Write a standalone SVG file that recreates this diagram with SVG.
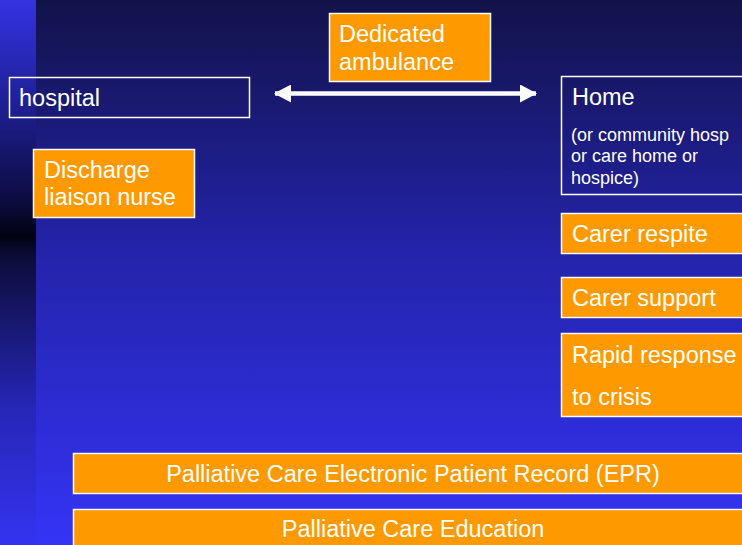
<svg xmlns="http://www.w3.org/2000/svg" width="742" height="545" viewBox="0 0 742 545">
  <defs>
    <linearGradient id="bgMain" x1="0" y1="0" x2="0" y2="1">
      <stop offset="0" stop-color="#12124a"/>
      <stop offset="0.45" stop-color="#2323a8"/>
      <stop offset="1" stop-color="#3434f6"/>
    </linearGradient>
    <linearGradient id="bgLeft" x1="0" y1="0" x2="0" y2="1">
      <stop offset="0" stop-color="#3333e2"/>
      <stop offset="0.18" stop-color="#20209a"/>
      <stop offset="0.36" stop-color="#0d0d45"/>
      <stop offset="0.435" stop-color="#020212"/>
      <stop offset="0.47" stop-color="#0c0c38"/>
      <stop offset="0.75" stop-color="#2626b8"/>
      <stop offset="1" stop-color="#3434f0"/>
    </linearGradient>
    <marker id="ah" viewBox="0 0 17 18" refX="16" refY="9" markerWidth="17" markerHeight="18" markerUnits="userSpaceOnUse" orient="auto-start-reverse">
      <path d="M0,0 L17,9 L0,18 Z" fill="#ffffff"/>
    </marker>
  </defs>
  <style>
    .orange { fill: #ff9900; stroke: #ffffff; stroke-width: 1.5; }
    .outline { fill: none; stroke: #ffffff; stroke-width: 1.5; }
    .t { font-family: "Liberation Sans", Arial, sans-serif; font-size: 23.5px; fill: #ffffff; }
    .s { font-family: "Liberation Sans", Arial, sans-serif; font-size: 18px; fill: #ffffff; }
  </style>

  <rect x="0" y="0" width="742" height="545" fill="url(#bgMain)"/>
  <rect x="0" y="0" width="36" height="545" fill="url(#bgLeft)"/>

  <g id="hospital">
    <rect class="outline" x="9.5" y="77.5" width="240" height="40"/>
    <text class="t" x="19" y="106">hospital</text>
  </g>

  <g id="discharge">
    <rect class="orange" x="33.5" y="149.5" width="161" height="68"/>
    <text class="t" x="44" y="178">Discharge</text>
    <text class="t" x="44" y="205">liaison nurse</text>
  </g>

  <g id="ambulance">
    <rect class="orange" x="329.5" y="13.5" width="161" height="68"/>
    <text class="t" x="339" y="42">Dedicated</text>
    <text class="t" x="339" y="70">ambulance</text>
  </g>

  <g id="home">
    <rect class="outline" x="561.5" y="76.5" width="200" height="118"/>
    <text class="t" x="572" y="105">Home</text>
    <text class="s" x="571" y="141">(or community hosp</text>
    <text class="s" x="571" y="162">or care home or</text>
    <text class="s" x="571" y="184">hospice)</text>
  </g>

  <g id="carer-respite">
    <rect class="orange" x="561.5" y="213.5" width="200" height="40"/>
    <text class="t" x="572" y="242">Carer respite</text>
  </g>

  <g id="carer-support">
    <rect class="orange" x="561.5" y="277.5" width="200" height="40"/>
    <text class="t" x="572" y="306">Carer support</text>
  </g>

  <g id="rapid-response">
    <rect class="orange" x="561.5" y="333.5" width="200" height="83"/>
    <text class="t" x="572" y="363">Rapid response</text>
    <text class="t" x="572" y="405">to crisis</text>
  </g>

  <g id="epr">
    <rect class="orange" x="73.5" y="453.5" width="680" height="40"/>
    <text class="t" x="413" y="482" text-anchor="middle">Palliative Care Electronic Patient Record (EPR)</text>
  </g>

  <g id="education">
    <rect class="orange" x="73.5" y="509.5" width="680" height="50"/>
    <text class="t" x="413" y="537" text-anchor="middle">Palliative Care Education</text>
  </g>

  <g id="connectors">
    <line x1="275" y1="93.5" x2="536" y2="93.5" stroke="#ffffff" stroke-width="4.5" marker-start="url(#ah)" marker-end="url(#ah)"/>
  </g>
</svg>
